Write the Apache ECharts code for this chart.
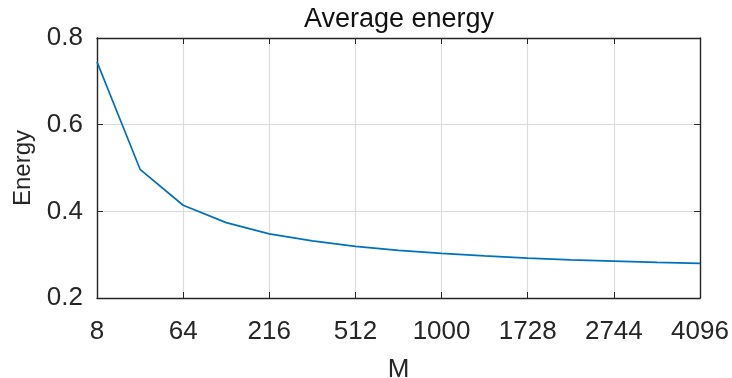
<!DOCTYPE html>
<html>
<head>
<meta charset="utf-8">
<script src="https://cdn.jsdelivr.net/npm/echarts@6/dist/echarts.min.js"></script>
<style>
  html, body { margin: 0; padding: 0; background: #fff; }
  #chart { width: 732px; height: 378px; }
</style>
</head>
<body>
<div id="chart"></div>
<script>
// M = n^3 for n = 2..16
const mValues = ['8', '27', '64', '125', '216', '343', '512', '729', '1000', '1331', '1728', '2197', '2744', '3375', '4096'];
const energy = [0.745, 0.497, 0.414, 0.374, 0.348, 0.332, 0.319, 0.310, 0.303, 0.297, 0.292, 0.288, 0.285, 0.282, 0.280];
const yTicks = [0.2, 0.4, 0.6, 0.8];

const font = '"Liberation Sans", Arial, Helvetica, sans-serif';
const ink = '#262626';

const myChart = echarts.init(document.getElementById('chart'));
const option = {
  animation: false,
  title: {
    text: 'Average energy',
    left: 399,
    textAlign: 'center',
    top: 6,
    padding: 0,
    textStyle: { fontFamily: font, fontSize: 27, fontWeight: 'normal', color: '#111' }
  },
  grid: { left: 97, right: 32, top: 38, bottom: 80, outerBoundsMode: 'none', containLabel: false },
  xAxis: [{
    type: 'category',
    data: mValues,
    boundaryGap: false,
    name: 'M',
    nameLocation: 'middle',
    nameGap: 59,
    nameTextStyle: { fontFamily: font, fontSize: 26, color: ink },
    axisLine: { lineStyle: { color: ink, width: 1.4 } },
    axisTick: { inside: true, length: 6, interval: 1, lineStyle: { color: ink } },
    axisLabel: { interval: 1, margin: 21, fontFamily: font, fontSize: 26, color: ink },
    splitLine: { show: true, interval: 1, lineStyle: { color: '#dcdcdc', width: 1.2 } }
  }, {
    type: 'category',
    data: mValues,
    boundaryGap: false,
    position: 'top',
    axisLine: { lineStyle: { color: ink, width: 1.4 } },
    axisTick: { inside: true, length: 6, interval: 1, lineStyle: { color: ink } },
    axisLabel: { show: false },
    splitLine: { show: false }
  }],
  yAxis: [{
    type: 'value',
    min: yTicks[0],
    max: yTicks[yTicks.length - 1],
    interval: 0.2,
    name: 'Energy',
    nameLocation: 'middle',
    nameGap: 62,
    nameTextStyle: { fontFamily: font, fontSize: 24, color: ink },
    axisLine: { show: true, lineStyle: { color: ink, width: 1.4 } },
    axisTick: { show: true, inside: true, length: 6, lineStyle: { color: ink } },
    axisLabel: { margin: 14, fontFamily: font, fontSize: 26, color: ink, formatter: (v) => v.toFixed(1) },
    splitLine: { show: true, lineStyle: { color: '#dcdcdc', width: 1.2 } }
  }, {
    type: 'value',
    min: yTicks[0],
    max: yTicks[yTicks.length - 1],
    interval: 0.2,
    position: 'right',
    axisLine: { show: true, lineStyle: { color: ink, width: 1.4 } },
    axisTick: { show: true, inside: true, length: 6, lineStyle: { color: ink } },
    axisLabel: { show: false },
    splitLine: { show: false }
  }],
  series: [{
    type: 'line',
    data: energy,
    showSymbol: false,
    lineStyle: { color: '#0072BD', width: 1.7 }
  }]
};

myChart.setOption(option);
</script>
</body>
</html>
